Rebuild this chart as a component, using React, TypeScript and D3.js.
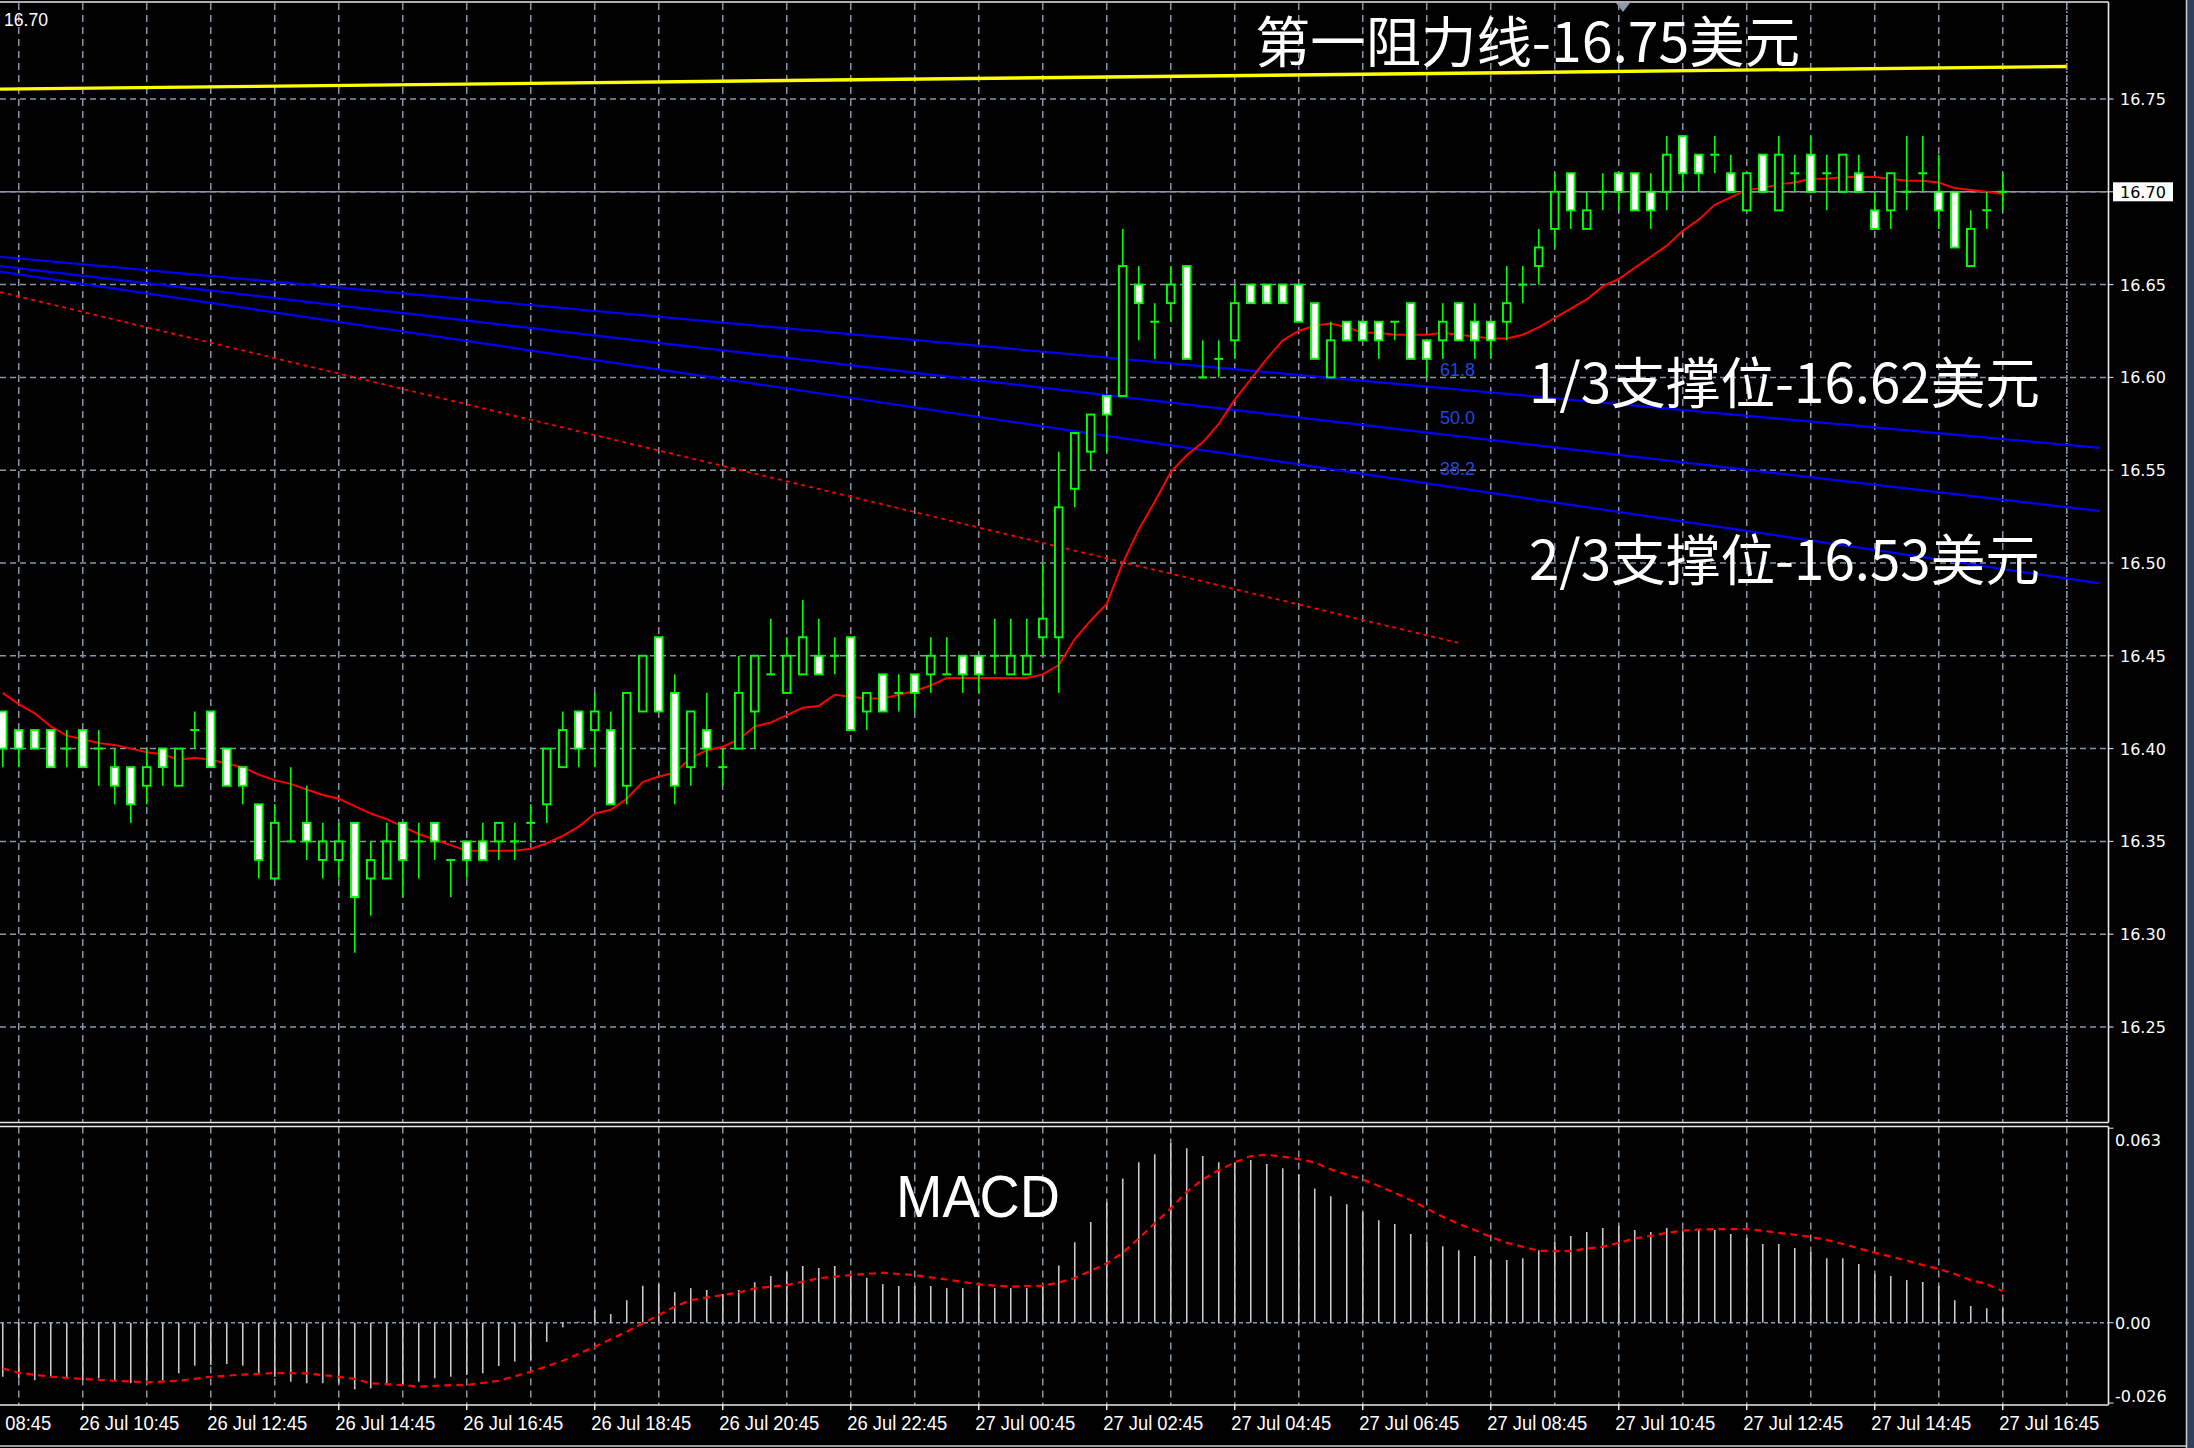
import * as d3 from 'd3'

const W = 2194
const H = 1448

// XAG M15 bars, 26 Jul 09:30 .. 27 Jul 16:45 (126 bars)
const opens = [
  16.42, 16.41, 16.41, 16.41, 16.40, 16.41, 16.40, 16.39, 16.39, 16.38,
  16.40, 16.38, 16.41, 16.42, 16.40, 16.39, 16.37, 16.33, 16.35, 16.36,
  16.34, 16.34, 16.36, 16.33, 16.33, 16.36, 16.35, 16.36, 16.34, 16.35,
  16.35, 16.35, 16.35, 16.36, 16.37, 16.39, 16.42, 16.41, 16.41, 16.38,
  16.42, 16.46, 16.43, 16.39, 16.41, 16.39, 16.40, 16.42, 16.44, 16.43,
  16.44, 16.45, 16.45, 16.46, 16.42, 16.44, 16.43, 16.44, 16.44, 16.44,
  16.45, 16.45, 16.45, 16.44, 16.44, 16.46, 16.46, 16.54, 16.56, 16.59,
  16.59, 16.65, 16.63, 16.64, 16.66, 16.60, 16.61, 16.62, 16.65, 16.65,
  16.65, 16.65, 16.64, 16.60, 16.63, 16.63, 16.63, 16.63, 16.64, 16.62,
  16.62, 16.64, 16.63, 16.63, 16.63, 16.65, 16.66, 16.68, 16.71, 16.68,
  16.70, 16.71, 16.71, 16.70, 16.70, 16.73, 16.72, 16.72, 16.71, 16.69,
  16.72, 16.69, 16.71, 16.72, 16.71, 16.70, 16.71, 16.69, 16.69, 16.70,
  16.71, 16.70, 16.70, 16.66, 16.69, 16.70,
]
const highs = [
  16.42, 16.41, 16.41, 16.41, 16.41, 16.41, 16.41, 16.40, 16.39, 16.40,
  16.40, 16.40, 16.42, 16.42, 16.40, 16.39, 16.37, 16.37, 16.39, 16.38,
  16.36, 16.36, 16.36, 16.35, 16.36, 16.36, 16.36, 16.36, 16.34, 16.35,
  16.36, 16.36, 16.36, 16.37, 16.40, 16.42, 16.42, 16.43, 16.42, 16.43,
  16.45, 16.46, 16.44, 16.42, 16.43, 16.40, 16.45, 16.45, 16.47, 16.46,
  16.48, 16.47, 16.46, 16.46, 16.43, 16.44, 16.44, 16.44, 16.46, 16.46,
  16.45, 16.45, 16.47, 16.47, 16.47, 16.50, 16.56, 16.57, 16.58, 16.59,
  16.68, 16.66, 16.64, 16.66, 16.66, 16.62, 16.62, 16.65, 16.65, 16.65,
  16.65, 16.65, 16.64, 16.63, 16.63, 16.63, 16.63, 16.63, 16.64, 16.62,
  16.64, 16.64, 16.64, 16.63, 16.66, 16.66, 16.68, 16.71, 16.71, 16.70,
  16.71, 16.71, 16.71, 16.71, 16.73, 16.73, 16.72, 16.73, 16.72, 16.71,
  16.72, 16.73, 16.72, 16.73, 16.72, 16.72, 16.72, 16.70, 16.71, 16.73,
  16.73, 16.72, 16.70, 16.69, 16.70, 16.71,
]
const lows = [
  16.39, 16.39, 16.40, 16.39, 16.39, 16.39, 16.38, 16.37, 16.36, 16.37,
  16.38, 16.38, 16.40, 16.39, 16.38, 16.37, 16.33, 16.33, 16.35, 16.34,
  16.33, 16.33, 16.29, 16.31, 16.33, 16.32, 16.33, 16.34, 16.32, 16.33,
  16.34, 16.34, 16.34, 16.35, 16.36, 16.39, 16.39, 16.39, 16.37, 16.37,
  16.42, 16.42, 16.37, 16.38, 16.39, 16.38, 16.40, 16.40, 16.44, 16.43,
  16.44, 16.44, 16.44, 16.41, 16.41, 16.42, 16.42, 16.42, 16.43, 16.44,
  16.43, 16.43, 16.44, 16.44, 16.44, 16.45, 16.43, 16.53, 16.55, 16.56,
  16.59, 16.62, 16.61, 16.63, 16.61, 16.60, 16.60, 16.61, 16.64, 16.64,
  16.64, 16.63, 16.61, 16.60, 16.62, 16.62, 16.61, 16.62, 16.61, 16.60,
  16.61, 16.62, 16.61, 16.61, 16.62, 16.64, 16.65, 16.67, 16.68, 16.68,
  16.69, 16.69, 16.69, 16.68, 16.69, 16.70, 16.70, 16.71, 16.70, 16.69,
  16.70, 16.69, 16.70, 16.70, 16.69, 16.70, 16.70, 16.68, 16.68, 16.69,
  16.70, 16.68, 16.67, 16.66, 16.68, 16.69,
]
const closes = [
  16.40, 16.40, 16.40, 16.39, 16.40, 16.39, 16.40, 16.38, 16.37, 16.39,
  16.39, 16.40, 16.41, 16.39, 16.38, 16.38, 16.34, 16.36, 16.35, 16.35,
  16.35, 16.35, 16.32, 16.34, 16.35, 16.34, 16.35, 16.35, 16.34, 16.34,
  16.34, 16.36, 16.35, 16.36, 16.40, 16.41, 16.40, 16.42, 16.37, 16.43,
  16.45, 16.42, 16.38, 16.42, 16.40, 16.39, 16.43, 16.45, 16.44, 16.45,
  16.46, 16.44, 16.45, 16.41, 16.43, 16.42, 16.43, 16.43, 16.45, 16.44,
  16.44, 16.44, 16.45, 16.45, 16.45, 16.47, 16.53, 16.57, 16.58, 16.58,
  16.66, 16.64, 16.63, 16.65, 16.61, 16.60, 16.61, 16.64, 16.64, 16.64,
  16.64, 16.63, 16.61, 16.62, 16.62, 16.62, 16.62, 16.63, 16.61, 16.61,
  16.63, 16.62, 16.62, 16.62, 16.64, 16.65, 16.67, 16.70, 16.69, 16.69,
  16.70, 16.70, 16.69, 16.69, 16.72, 16.71, 16.71, 16.72, 16.70, 16.71,
  16.70, 16.72, 16.71, 16.70, 16.71, 16.72, 16.70, 16.68, 16.71, 16.70,
  16.71, 16.69, 16.67, 16.68, 16.69, 16.70,
]

// red moving average, one value per bar
const maValues = [
  16.430, 16.424, 16.419, 16.412, 16.407, 16.405, 16.403, 16.402, 16.400, 16.398,
  16.397, 16.394, 16.395, 16.394, 16.392, 16.390, 16.386, 16.383, 16.381, 16.378,
  16.375, 16.373, 16.369, 16.365, 16.362, 16.358, 16.354, 16.351, 16.348, 16.345,
  16.345, 16.345, 16.345, 16.346, 16.349, 16.353, 16.358, 16.365, 16.367, 16.373,
  16.382, 16.385, 16.387, 16.395, 16.399, 16.401, 16.405, 16.412, 16.414, 16.418,
  16.422, 16.423, 16.429, 16.428, 16.427, 16.427, 16.429, 16.431, 16.434, 16.438,
  16.438, 16.438, 16.438, 16.438, 16.438, 16.440, 16.445, 16.459, 16.469, 16.478,
  16.500, 16.518, 16.533, 16.549, 16.558, 16.565, 16.575, 16.588, 16.599, 16.610,
  16.620, 16.625, 16.628, 16.629, 16.627, 16.624, 16.624, 16.623, 16.623, 16.623,
  16.624, 16.623, 16.622, 16.621, 16.621, 16.623, 16.627, 16.632, 16.637, 16.642,
  16.649, 16.653, 16.659, 16.665, 16.671, 16.679, 16.685, 16.693, 16.697, 16.701,
  16.702, 16.704, 16.705, 16.707, 16.707, 16.708, 16.708, 16.708, 16.707, 16.706,
  16.706, 16.705, 16.702, 16.701, 16.700, 16.699,
]

// MACD histogram, in thousandths
const macdHist = [
  -17.5, -18.0, -18.6, -17.5, -18.0, -18.6, -18.0, -18.6, -19.6, -18.6,
  -18.6, -16.4, -13.9, -13.7, -13.4, -13.9, -16.9, -17.5, -19.1, -19.6,
  -19.6, -19.6, -21.6, -21.3, -20.2, -20.2, -19.1, -18.0, -17.5, -16.9,
  -16.4, -14.0, -12.6, -12.1, -6.2, -1.5, 0.3, 4.1, 2.8, 7.3,
  12.0, 12.5, 9.9, 11.2, 10.6, 9.3, 10.6, 13.1, 15.1, 16.4,
  18.4, 17.7, 18.4, 15.4, 14.5, 12.5, 11.9, 11.9, 11.9, 11.2,
  11.2, 11.9, 11.2, 11.2, 11.2, 11.7, 18.5, 26.1, 32.6, 38.9,
  46.7, 52.0, 54.6, 58.1, 56.5, 54.0, 52.0, 51.8, 52.7, 51.4,
  50.0, 48.1, 43.5, 41.0, 38.4, 35.8, 33.2, 32.0, 28.7, 26.2,
  24.8, 23.5, 21.6, 20.3, 20.3, 20.9, 23.5, 26.2, 28.1, 29.4,
  30.7, 31.3, 30.0, 29.4, 30.7, 30.0, 30.0, 30.0, 28.7, 27.4,
  25.5, 25.5, 24.2, 22.9, 20.9, 20.9, 19.0, 15.7, 15.1, 13.8,
  13.2, 11.9, 7.3, 5.4, 4.7, 4.7,
]

// MACD signal line (thousandths), read at these bars
const signalBars = [
  0, 1, 3, 5, 7, 9, 11, 13, 15, 17, 19, 21, 22, 23, 25, 26, 28, 29, 31, 33,
  35, 37, 39, 40, 41, 42, 43, 45, 46, 47, 49, 51, 53, 55, 57, 59, 61, 63, 65, 66,
  67, 68, 69, 70, 71, 72, 73, 74, 75, 76, 77, 78, 79, 80, 81, 82, 83, 84, 85, 86,
  87, 88, 89, 90, 91, 92, 93, 94, 95, 96, 97, 98, 99, 100, 101, 102, 103, 104, 105, 106,
  107, 108, 109, 110, 111, 112, 113, 114, 115, 116, 117, 118, 119, 120, 121, 122, 123, 124, 125,
]
const signalValues = [
  -14.8, -16.2, -17.5, -18.2, -18.8, -19.3, -18.8, -17.5, -16.8, -16.3, -16.4, -17.5, -18.2, -19.6, -20.2, -20.7, -20.2, -20.2, -18.8, -15.9,
  -12.3, -7.8, -2.9, -0.2, 2.5, 5.2, 7.3, 9.0, 9.8, 11.1, 12.2, 14.4, 15.4, 16.2, 15.4, 14.0, 12.4, 11.7, 12.0, 13.0,
  14.5, 16.8, 19.2, 22.7, 27.3, 32.2, 37.0, 42.4, 46.4, 49.4, 51.9, 54.0, 54.4, 53.8, 53.0, 51.9, 49.7, 48.0, 46.4, 44.3,
  42.1, 39.7, 37.0, 34.3, 32.0, 30.0, 27.8, 25.9, 24.6, 23.3, 23.2, 23.2, 24.0, 24.6, 25.9, 27.3, 28.1, 29.1, 29.8, 30.2,
  30.3, 30.3, 30.3, 29.8, 29.1, 28.5, 27.8, 26.8, 25.5, 24.1, 22.7, 21.4, 20.1, 18.7, 17.4, 15.8, 13.8, 12.5, 10.3,
]

const priceTicks = [16.25, 16.3, 16.35, 16.4, 16.45, 16.5, 16.55, 16.6, 16.65, 16.7, 16.75]
const macdTicks = [0.063, 0.0, -0.026]
const timeLabels = [
  '26 Jul 08:45', '26 Jul 10:45', '26 Jul 12:45', '26 Jul 14:45', '26 Jul 16:45', '26 Jul 18:45',
  '26 Jul 20:45', '26 Jul 22:45', '27 Jul 00:45', '27 Jul 02:45', '27 Jul 04:45', '27 Jul 06:45',
  '27 Jul 08:45', '27 Jul 10:45', '27 Jul 12:45', '27 Jul 14:45', '27 Jul 16:45',
]
const timeLabelBars = [-3, 5, 13, 21, 29, 37, 45, 53, 61, 69, 77, 85, 93, 101, 109, 117, 125]

// drawn objects: fib fan, trend line, resistance line (bar index, price)
const fibLevels = ['61.8', '50.0', '38.2']
const fibBars = [-0.17, 131.08]
const fibStartPrices = [16.665, 16.66, 16.657]
const fibEndPrices = [16.562, 16.528, 16.489]
const trendBars = [-0.17, 90.95]
const trendPrices = [16.646, 16.457]
const resistBars = [-0.17, 128.99]
const resistPrices = [16.7553, 16.7675]
const bidPrice = 16.7

const notes = [
  { text: '第一阻力线-16.75美元', x: 1255, y: 62, len: 545 },
  { text: '1/3支撑位-16.62美元', x: 1529, y: 403, len: 511 },
  { text: '2/3支撑位-16.53美元', x: 1529, y: 580, len: 511 },
]

const GRID = '#8796a8'
const LIME = '#00ff00'
const R = 2108.5 // right edge of plot
const PT = 3
const PB = 1122.5
const MT = 1126.5
const MB = 1405

export default function App() {
  const x = d3.scaleLinear().domain([0, 125]).range([2.75, 2002.75])
  const y = d3.scaleLinear().domain([16.25, 16.75]).range([1027, 99])
  const ym = d3.scaleLinear().domain([-0.026, 0.063]).range([1403, 1128.2])

  const gridBars = d3.range(1, 131, 4)
  const seg = d3.line<[number, number]>().x((d) => x(d[0])).y((d) => y(d[1]))
  const maPath = d3.line<number>().x((_, i) => x(i)).y((d) => y(d))(maValues)
  const sigPath = d3
    .line<number>()
    .x((_, i) => x(signalBars[i]))
    .y((d) => ym(d / 1000))(signalValues)

  const axisFont = { fontFamily: 'DejaVu Sans', fontSize: 16 }

  return (
    <div style={{ position: 'absolute', left: 0, top: 0, width: W, height: H, background: '#000' }}>
      <svg width={W} height={H} style={{ display: 'block' }}>
        <defs>
          <clipPath id="pricePane">
            <rect x={0} y={PT} width={R} height={PB - PT} />
          </clipPath>
          <clipPath id="macdPane">
            <rect x={0} y={MT} width={R} height={MB - MT} />
          </clipPath>
        </defs>
        <rect x={0} y={0} width={W} height={H} fill="#000" />

        {/* price pane */}
        <g clipPath="url(#pricePane)">
          {gridBars.map((k) => (
            <line key={'vg' + k} x1={x(k)} x2={x(k)} y1={PT} y2={PB} stroke={GRID} strokeWidth={1.5} strokeDasharray="7,5" />
          ))}
          {priceTicks.map((p) => (
            <line key={'hg' + p} x1={0} x2={R} y1={y(p)} y2={y(p)} stroke={GRID} strokeWidth={1.5} strokeDasharray="6,4" />
          ))}
          <line x1={x(129)} x2={x(129)} y1={PT} y2={PB} stroke="#8896a6" strokeWidth={1.5} strokeDasharray="2,2" />
          <line x1={0} x2={R} y1={y(bidPrice)} y2={y(bidPrice)} stroke={GRID} strokeWidth={1.4} />

          <path
            d={seg([[resistBars[0], resistPrices[0]], [resistBars[1], resistPrices[1]]]) || ''}
            stroke="#ffff00"
            strokeWidth={3.4}
            fill="none"
          />
          {fibLevels.map((lv, i) => (
            <path
              key={'fib' + lv}
              d={seg([[fibBars[0], fibStartPrices[i]], [fibBars[1], fibEndPrices[i]]]) || ''}
              stroke="#0000ff"
              strokeWidth={2.2}
              fill="none"
            />
          ))}
          {fibLevels.map((lv, i) => (
            <text
              key={'fibt' + lv}
              x={1440}
              y={[376, 424, 475][i]}
              fill="#2446e0"
              fontFamily="Liberation Sans"
              fontSize={19}
              textLength={35}
              lengthAdjust="spacingAndGlyphs"
            >
              {lv}
            </text>
          ))}
          <path
            d={seg([[trendBars[0], trendPrices[0]], [trendBars[1], trendPrices[1]]]) || ''}
            stroke="#ff0000"
            strokeWidth={1.8}
            strokeDasharray="4,4"
            fill="none"
          />
          <path d={maPath || ''} stroke="#ff0000" strokeWidth={2} fill="none" />

          {opens.map((o, k) => {
            const c = closes[k]
            const cx = x(k)
            const top = y(Math.max(o, c))
            const bot = y(Math.min(o, c))
            return (
              <g key={'c' + k}>
                <line x1={cx} x2={cx} y1={y(highs[k])} y2={y(lows[k])} stroke={LIME} strokeWidth={1.6} />
                {o === c ? (
                  <line x1={cx - 4.5} x2={cx + 4.5} y1={top} y2={top} stroke={LIME} strokeWidth={2} />
                ) : (
                  <rect
                    x={cx - 3.8}
                    y={top}
                    width={7.6}
                    height={bot - top}
                    fill={c < o ? '#ffffff' : '#000000'}
                    stroke={LIME}
                    strokeWidth={1.9}
                  />
                )}
              </g>
            )
          })}
        </g>

        {/* MACD pane */}
        <g clipPath="url(#macdPane)">
          {gridBars.map((k) => (
            <line key={'mg' + k} x1={x(k)} x2={x(k)} y1={MT} y2={MB} stroke={GRID} strokeWidth={1.5} strokeDasharray="7,5" />
          ))}
          <line x1={0} x2={R} y1={ym(0)} y2={ym(0)} stroke={GRID} strokeWidth={1.5} strokeDasharray="4,3" />
          {macdHist.map((v, k) => (
            <line key={'h' + k} x1={x(k)} x2={x(k)} y1={ym(0)} y2={ym(v / 1000)} stroke="#c4c8cc" strokeWidth={1.6} />
          ))}
          <path d={sigPath || ''} stroke="#ff0000" strokeWidth={2.2} strokeDasharray="7,5" fill="none" />
        </g>

        {/* frames */}
        <g stroke="#e8e8e8" strokeWidth={1.6} fill="none">
          <line x1={0} x2={R} y1={2} y2={2} />
          <line x1={0} x2={R} y1={PB} y2={PB} />
          <line x1={0} x2={R} y1={MT} y2={MT} />
          <line x1={0} x2={R} y1={MB} y2={MB} />
          <line x1={R} x2={R} y1={2} y2={PB} />
          <line x1={R} x2={R} y1={MT} y2={MB} />
        </g>
        <polygon points="1616,3 1630,3 1623,12" fill="#8a98a8" />

        {/* price axis */}
        {priceTicks.map((p) => (
          <g key={'pl' + p}>
            <line x1={R} x2={R + 5} y1={y(p)} y2={y(p)} stroke="#e8e8e8" />
            {p === bidPrice ? null : (
              <text x={2120} y={y(p) + 6} fill="#ffffff" {...axisFont}>
                {p.toFixed(2)}
              </text>
            )}
          </g>
        ))}
        <rect x={2113} y={y(bidPrice) - 9.5} width={60} height={19} fill="#ffffff" />
        <text x={2120} y={y(bidPrice) + 6} fill="#000000" {...axisFont}>
          {bidPrice.toFixed(2)}
        </text>

        {macdTicks.map((v, i) => (
          <g key={'ml' + i}>
            <line x1={R} x2={R + 5} y1={ym(v)} y2={ym(v)} stroke="#e8e8e8" />
            <text
              x={2115}
              y={(v === 0.063 ? ym(v) + 12 : v < 0 ? ym(v) - 7 : ym(v)) + 6}
              fill="#ffffff"
              {...axisFont}
            >
              {v === 0 ? '0.00' : v.toFixed(3)}
            </text>
          </g>
        ))}

        {/* time axis */}
        {timeLabels.map((t, i) => {
          const tx = x(timeLabelBars[i])
          return (
            <g key={'t' + t}>
              <line x1={tx} x2={tx} y1={MB} y2={MB + 5} stroke="#e8e8e8" strokeWidth={1.5} />
              <text
                x={tx - 3.5}
                y={1430}
                fill="#ffffff"
                fontFamily="Liberation Sans"
                fontSize={20}
                textLength={100}
                lengthAdjust="spacingAndGlyphs"
              >
                {t}
              </text>
            </g>
          )
        })}

        <text x={4} y={26} fill="#ffffff" fontFamily="Liberation Sans" fontSize={19} textLength={44} lengthAdjust="spacingAndGlyphs">
          16.70
        </text>

        {notes.map((n) => (
          <text
            key={n.text}
            x={n.x}
            y={n.y}
            fill="#ffffff"
            fontFamily="Noto Sans CJK SC"
            fontSize={55}
            textLength={n.len}
            lengthAdjust="spacingAndGlyphs"
          >
            {n.text}
          </text>
        ))}
        <text x={896} y={1217} fill="#ffffff" fontFamily="Liberation Sans" fontSize={60} textLength={164} lengthAdjust="spacingAndGlyphs">
          MACD
        </text>

        {/* window edges */}
        <line x1={0} x2={W} y1={1446} y2={1446} stroke="#9a9a9a" strokeWidth={2} />
        <rect x={2187} y={0} width={7} height={H} fill="#2f3f5c" />
        <line x1={2186.5} x2={2186.5} y1={0} y2={H} stroke="#d0d0d0" strokeWidth={1.5} />
      </svg>
    </div>
  )
}
